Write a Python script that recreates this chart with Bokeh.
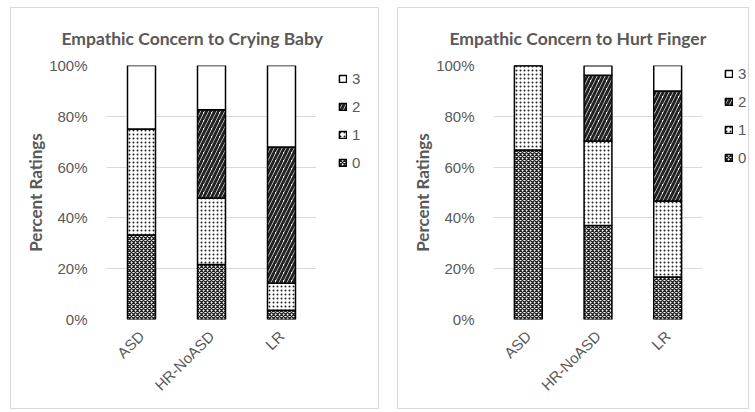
import numpy as np
from bokeh.plotting import figure
from bokeh.models import ColumnDataSource, FactorRange, Range1d, Legend, LegendItem, PrintfTickFormatter, FixedTicker
from bokeh.layouts import row
from bokeh.embed import file_html
from bokeh.resources import INLINE

groups = ["ASD", "HR-NoASD", "LR"]
ratings = ["0", "1", "2", "3"]

baby_0 = [33.3, 21.7, 3.6]
baby_1 = [41.7, 26.1, 10.7]
baby_2 = [0.0, 34.8, 53.6]
baby_3 = [25.0, 17.4, 32.1]

finger_0 = [66.7, 37.0, 16.7]
finger_1 = [33.3, 33.3, 30.0]
finger_2 = [0.0, 25.9, 43.3]
finger_3 = [0.0, 3.7, 10.0]

y_ticks = [0, 20, 40, 60, 80, 100]

GREY = "#595959"
LIGHT = "#d9d9d9"

hatch_pattern = ["diagonal_cross", "dot", "right_diagonal_line", "blank"]
hatch_scale = [4.0, 4.0, 8.0, 1.0]
hatch_weight = [1.3, 0.8, 3.0, 1.0]
BAR_STYLE = dict(line_color="black", line_width=1.5, fill_color="white", hatch_color="#222222")


def stack(fig, src):
    return fig.vbar_stack(
        ratings, x="group", source=src, width=0.4,
        hatch_pattern=hatch_pattern, hatch_scale=hatch_scale,
        hatch_weight=hatch_weight, **BAR_STYLE,
    )


def make_chart(title, cols, main_w, leg_w, right_border, title_offset, legend_xy, margin):
    src = ColumnDataSource(dict(group=groups, **{r: c for r, c in zip(ratings, cols)}))
    p = figure(
        x_range=FactorRange(*groups, range_padding=0),
        y_range=Range1d(0, 100),
        width=main_w, height=400,
        output_backend="svg", toolbar_location=None,
        min_border_left=95, min_border_right=right_border,
        min_border_top=57, min_border_bottom=89,
        background_fill_color="white", border_fill_color="white",
        outline_line_color=None,
    )
    stack(p, src)
    p.title.text = title
    p.title.align = "left"
    p.title.offset = title_offset
    p.title.text_font = "Lato"
    p.title.text_font_size = "17.5px"
    p.title.text_font_style = "bold"
    p.title.text_color = GREY
    p.title.standoff = 34

    p.xgrid.visible = False
    p.ygrid.grid_line_color = LIGHT
    p.ygrid.grid_line_width = 1

    p.yaxis.ticker = FixedTicker(ticks=y_ticks)
    p.yaxis.formatter = PrintfTickFormatter(format="%d%%")
    p.yaxis.axis_label = "Percent Ratings"
    p.yaxis.axis_label_text_font = "Lato"
    p.yaxis.axis_label_text_font_style = "bold"
    p.yaxis.axis_label_text_font_size = "17px"
    p.yaxis.axis_label_text_color = GREY
    p.yaxis.axis_label_standoff = 0
    for ax in (p.xaxis, p.yaxis):
        ax.axis_line_color = None
        ax.major_tick_line_color = None
        ax.minor_tick_line_color = None
        ax.major_label_text_font = "Liberation Sans"
        ax.major_label_text_font_size = "15px"
        ax.major_label_text_color = GREY
    p.yaxis.major_label_standoff = 13
    p.xaxis.major_label_orientation = np.pi / 4
    p.xaxis.major_label_standoff = 8

    # legend panel: same stacked bars (hidden), used only for the legend keys
    lf = figure(
        width=leg_w, height=400, output_backend="svg", toolbar_location=None,
        x_range=FactorRange(*groups), y_range=Range1d(0, 100),
        min_border=0, outline_line_color=None,
        background_fill_color="white", border_fill_color="white",
    )
    lf.axis.visible = False
    lf.grid.visible = False
    lrends = stack(lf, src)
    for r in lrends:
        r.visible = False
    items = [LegendItem(label=r, renderers=[rend]) for r, rend in zip(ratings, lrends)][::-1]
    legend = Legend(
        items=items, location=legend_xy, padding=0, margin=0,
        glyph_width=9, glyph_height=9, label_height=20, spacing=8,
        label_text_font="Liberation Sans",
        label_text_font_size="15px", label_text_color=GREY,
        border_line_color=None, background_fill_alpha=0,
    )
    lf.add_layout(legend, "center")
    chart = row(p, lf, spacing=0)
    chart.margin = margin
    chart.styles = {"border": "1px solid " + LIGHT}
    return chart


c1 = make_chart("Empathic Concern to Crying Baby", [baby_0, baby_1, baby_2, baby_3],
                325, 42, 20, -45, (2, 147), (7, 18, 0, 10))
c2 = make_chart("Empathic Concern to Hurt Finger", [finger_0, finger_1, finger_2, finger_3],
                320, 30, 16, -44, (6, 152), (7, 0, 0, 0))

layout = row(c1, c2, spacing=0)
open("out.html", "w").write(file_html(layout, INLINE))
